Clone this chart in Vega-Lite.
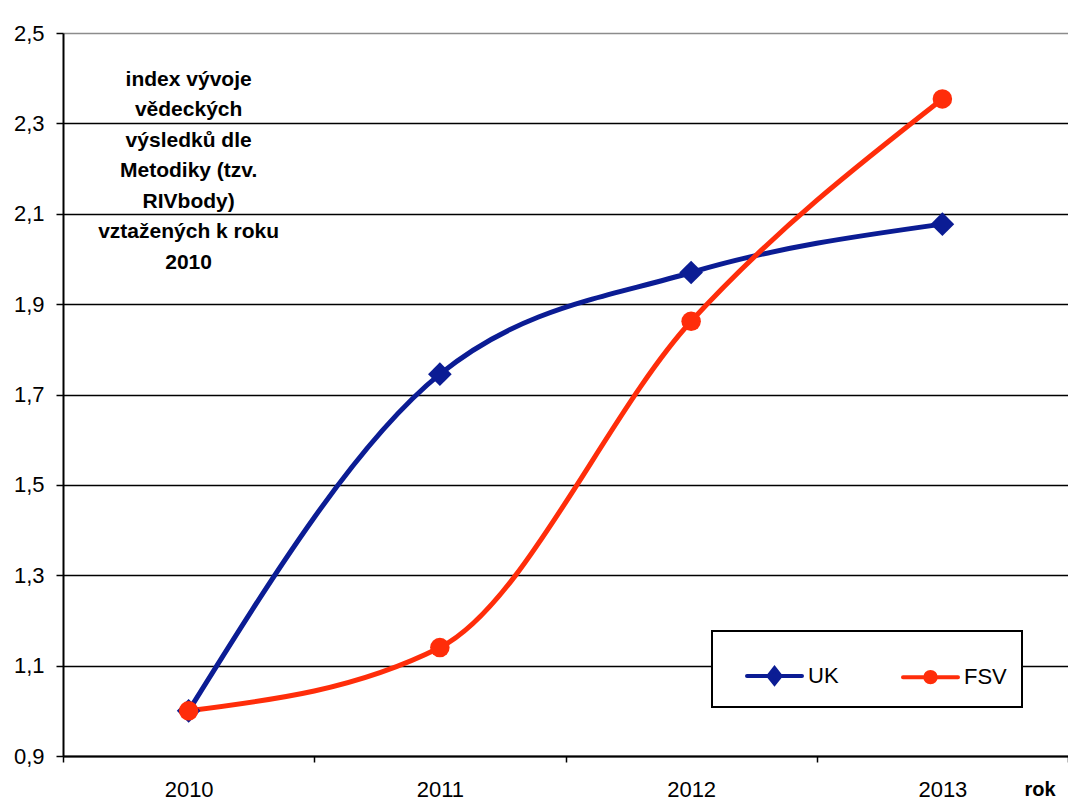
{
  "$schema": "https://vega.github.io/schema/vega-lite/v6.json",
  "width": 1005,
  "height": 723,
  "autosize": {"type": "none"},
  "padding": {"left": 63, "top": 33, "right": 0, "bottom": 49},
  "background": "white",
  "config": {
    "font": "Liberation Sans",
    "view": {"stroke": null},
    "axis": {
      "domainColor": "black",
      "domainWidth": 2,
      "tickColor": "black",
      "tickWidth": 1.5,
      "labelColor": "black",
      "labelFontSize": 22,
      "labelFont": "Liberation Sans",
      "titleColor": "black"
    }
  },
  "data": {
    "values": [
      {"rok": "2010", "serie": "UK", "index": 1.0},
      {"rok": "2011", "serie": "UK", "index": 1.745},
      {"rok": "2012", "serie": "UK", "index": 1.97},
      {"rok": "2013", "serie": "UK", "index": 2.077},
      {"rok": "2010", "serie": "FSV", "index": 1.0},
      {"rok": "2011", "serie": "FSV", "index": 1.14},
      {"rok": "2012", "serie": "FSV", "index": 1.862},
      {"rok": "2013", "serie": "FSV", "index": 2.354}
    ]
  },
  "layer": [
    {
      "mark": {"type": "line", "interpolate": "monotone", "strokeWidth": 5, "strokeJoin": "round", "strokeCap": "round"},
      "encoding": {
        "x": {
          "field": "rok", "type": "ordinal",
          "scale": {"type": "band", "domain": ["2010", "2011", "2012", "2013"], "paddingInner": 0, "paddingOuter": 0},
          "axis": {
            "title": "rok", "titleFontWeight": "bold", "titleFontSize": 20,
            "titleX": 992, "titleY": 39, "titleAlign": "right", "titleBaseline": "alphabetic", "titleAnchor": null,
            "labelAngle": 0, "tickSize": 6, "labelPadding": 17, "tickBand": "extent", "grid": false
          }
        },
        "y": {
          "field": "index", "type": "quantitative",
          "scale": {"domain": [0.9, 2.5], "nice": false, "zero": false},
          "axis": {
            "title": null,
            "values": [0.9, 1.1, 1.3, 1.5, 1.7, 1.9, 2.1, 2.3, 2.5],
            "labelExpr": "replace(format(datum.value, '.1f'), '.', ',')",
            "grid": true,
            "gridColor": {"condition": {"test": "datum.value > 2.45", "value": "#8c8c8c"}, "value": "black"},
            "gridWidth": 1.6,
            "tickSize": 7,
            "labelPadding": 12
          }
        },
        "color": {
          "field": "serie", "type": "nominal",
          "scale": {"domain": ["UK", "FSV"], "range": ["#0b1c94", "#ff2d0a"]},
          "legend": {
            "orient": "none", "legendX": 649, "legendY": 598,
            "direction": "horizontal", "title": null,
            "strokeColor": "black", "fillColor": "white", "padding": 15,
            "symbolSize": 3025, "symbolStrokeWidth": 4, "symbolOffset": 18,
            "labelFontSize": 22, "labelOffset": 4, "labelColor": "black", "columnPadding": 44,
            "encode": {
              "legend": {"update": {"strokeWidth": {"value": 2}, "width": {"value": 320}}},
              "symbols": {
                "update": {
                  "shape": {"signal": "datum.value === 'UK' ? 'M-1,0H1M0,-0.28L0.22,0L0,0.28L-0.22,0Z' : 'M-1,0H1M0.19,0A0.19,0.19 0 1,1 -0.19,0A0.19,0.19 0 1,1 0.19,0Z'"},
                  "fill": {"scale": "color", "field": "value"},
                  "strokeCap": {"value": "round"}
                }
              }
            }
          }
        }
      }
    },
    {
      "transform": [{"filter": "datum.serie === 'UK'"}],
      "mark": {"type": "point", "shape": "diamond", "size": 560, "filled": true, "opacity": 1, "color": "#0b1c94"},
      "encoding": {
        "x": {"field": "rok", "type": "ordinal"},
        "y": {"field": "index", "type": "quantitative"}
      }
    },
    {
      "transform": [{"filter": "datum.serie === 'FSV'"}],
      "mark": {"type": "point", "shape": "circle", "size": 380, "filled": true, "opacity": 1, "color": "#ff2d0a"},
      "encoding": {
        "x": {"field": "rok", "type": "ordinal"},
        "y": {"field": "index", "type": "quantitative"}
      }
    },
    {
      "data": {"values": [{"popis": "index"}]},
      "mark": {"type": "text", "align": "center", "baseline": "middle", "fontWeight": "bold", "fontSize": 21, "lineHeight": 30.5, "color": "black"},
      "encoding": {
        "x": {"datum": "2010", "type": "ordinal"},
        "y": {"datum": 2.397, "type": "quantitative"},
        "text": {"value": ["index vývoje", "vědeckých", "výsledků dle", "Metodiky (tzv.", "RIVbody)", "vztažených k roku", "2010"]}
      }
    }
  ]
}
